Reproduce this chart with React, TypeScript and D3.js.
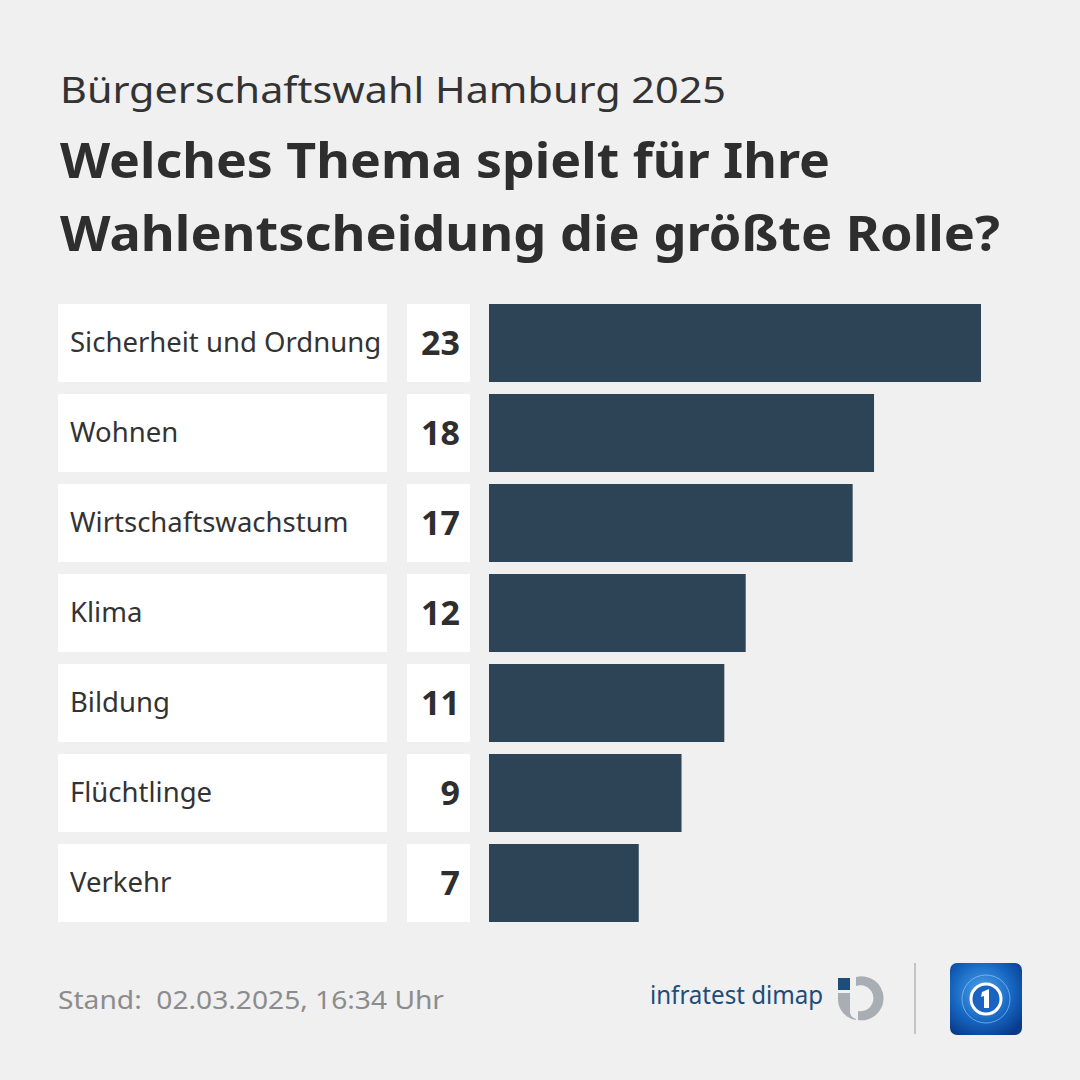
import React from "react";
import * as d3 from "d3";

const categories = ["Sicherheit und Ordnung", "Wohnen", "Wirtschaftswachstum", "Klima", "Bildung", "Flüchtlinge", "Verkehr"];
const values = [23, 18, 17, 12, 11, 9, 7];
const subtitle = "Bürgerschaftswahl Hamburg 2025";
const titleLines = ["Welches Thema spielt für Ihre", "Wahlentscheidung die größte Rolle?"];
const footer = "Stand:  02.03.2025, 16:34 Uhr";

const W = 1080, H = 1080;
const FONT = "'Noto Sans', 'Open Sans', sans-serif";

export default function App() {
  const x = d3.scaleLinear().domain([0, 23]).range([489, 981]);
  const y = d3.scaleBand().domain(categories).range([304, 922]).paddingInner(12 / 90).paddingOuter(0);
  const bw = y.bandwidth();
  return (
    <svg width={W} height={H} style={{ position: "absolute", left: 0, top: 0 }} fontFamily={FONT}>
      <defs>
        <radialGradient id="ardg" cx="0.45" cy="0.4" r="0.7">
          <stop offset="0" stopColor="#4fa3ec" />
          <stop offset="0.6" stopColor="#1565c0" />
          <stop offset="1" stopColor="#0a3a8a" />
        </radialGradient>
      </defs>
      <rect width={W} height={H} fill="#f0f0f0" />
      <text x={60} y={103} fontSize={36} fill="#333" textLength={666} lengthAdjust="spacingAndGlyphs">{subtitle}</text>
      <text x={60} y={178} fontSize={48} fontWeight={700} fill="#2e2e2e" textLength={770} lengthAdjust="spacingAndGlyphs">{titleLines[0]}</text>
      <text x={60} y={251} fontSize={48} fontWeight={700} fill="#2e2e2e" textLength={940} lengthAdjust="spacingAndGlyphs">{titleLines[1]}</text>
      {categories.map((c, i) => {
        const yy = y(c)!;
        return (
          <g key={c}>
            <rect x={58} y={yy} width={329} height={bw} fill="#ffffff" />
            <text x={70} y={yy + bw / 2 + 9} fontSize={27.5} fill="#333">{c}</text>
            <rect x={407} y={yy} width={63} height={bw} fill="#ffffff" />
            <text x={460} y={yy + bw / 2 + 12} fontSize={34} fontWeight={700} fill="#2e2e2e" textAnchor="end">{values[i]}</text>
            <rect x={x(0)} y={yy} width={x(values[i]) - x(0)} height={bw} fill="#2c4456" />
          </g>
        );
      })}
      <text x={58} y={1009} fontSize={26} fill="#8c8c8c" textLength={386} lengthAdjust="spacingAndGlyphs" style={{ whiteSpace: "pre" }}>{footer}</text>
      <text x={650} y={1004} fontSize={26} fill="#1d4d7a" textLength={173} lengthAdjust="spacingAndGlyphs">infratest dimap</text>
      <rect x={838} y={978} width={12} height={12} fill="#1d4d7a" />
      <path d="M 838 993 L 850 993 L 850 1012 A 8 8 0 0 0 856 1019 L 856 1020 A 21 21 0 0 1 838 1000 Z" fill="#a8aeb3" />
      <path d="M 856 977 A 22 22 0 1 1 858 1020 L 858 1011 A 13 13 0 1 0 856 986 Z" fill="#a8aeb3" />
      <line x1={915} y1={963} x2={915} y2={1034} stroke="#c4c4c4" strokeWidth={2} />
      <rect x={950} y={963} width={72} height={72} rx={7} fill="url(#ardg)" />
      <circle cx={986} cy={999} r={24} fill="none" stroke="#9cd0f7" strokeWidth={1} opacity={0.6} />
      <circle cx={986} cy={999} r={15} fill="#1a63c0" stroke="#ffffff" strokeWidth={3} />
      <path d="M 982 992 L 989 989 L 989 1008 L 984 1008 L 984 996 L 981 997 Z" fill="#ffffff" />
    </svg>
  );
}
